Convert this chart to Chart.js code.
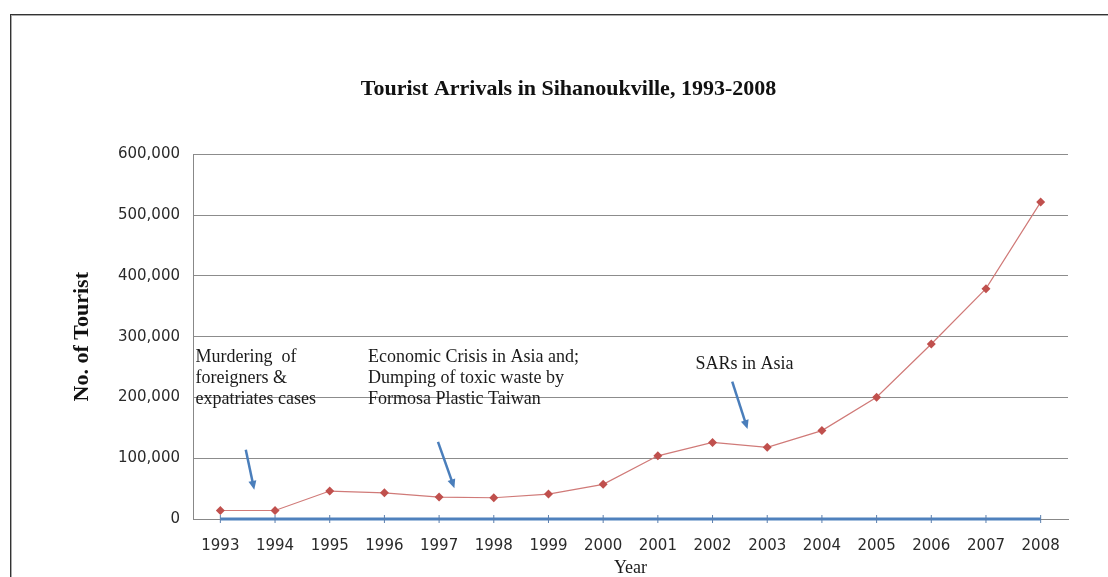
<!DOCTYPE html>
<html>
<head>
<meta charset="utf-8">
<title>Tourist Arrivals in Sihanoukville, 1993-2008</title>
<script src="https://cdn.jsdelivr.net/npm/chart.js@4/dist/chart.umd.min.js"></script>
<style>
html, body { margin: 0; padding: 0; background: #fff; overflow: hidden; }
#frame { position: absolute; left: 10px; top: 14px; width: 1130px; height: 620px;
         border: 1px solid #333; box-shadow: inset 1px 1px 0 #aaa; }
#wrap { position: absolute; left: 0; top: 0; width: 1108px; height: 577px; }
</style>
</head>
<body>
<div id="frame"></div>
<div id="wrap"><canvas id="chart"></canvas></div>
<script>
var years = ["1993", "1994", "1995", "1996", "1997", "1998", "1999", "2000",
             "2001", "2002", "2003", "2004", "2005", "2006", "2007", "2008"];
var arrivals = [14000, 14000, 46000, 43000, 36000, 35000, 41000, 57000,
                104000, 126000, 118000, 145500, 200500, 288000, 379000, 521500];
var baseline = [0, 0, 0, 0, 0, 0, 0, 0, 0, 0, 0, 0, 0, 0, 0, 0];
var yMax = 600000;
var yStep = 100000;

// events: x in category index units, y in tourist counts
var notes = [
    { lines: ["Murdering  of", "foreigners &", "expatriates cases"],
      x: -0.455, y: 266000, from: [0.465, 113800], to: [0.62, 48000] },
    { lines: ["Economic Crisis in Asia and;", "Dumping of toxic waste by", "Formosa Plastic Taiwan"],
      x: 2.70, y: 266000, from: [3.98, 127000], to: [4.28, 50600] },
    { lines: ["SARs in Asia"],
      x: 8.69, y: 255000, from: [9.36, 226000], to: [9.64, 148000] }
];

var notePlugin = {
    id: "notes",
    afterDatasetsDraw: function(chart) {
        var ctx = chart.ctx, xs = chart.scales.x, ys = chart.scales.y;
        ctx.save();
        ctx.font = "18px 'Liberation Serif'";
        ctx.textBaseline = "middle";
        ctx.textAlign = "left";
        notes.forEach(function(n) {
            var tx = xs.getPixelForValue(n.x), ty = ys.getPixelForValue(n.y);
            ctx.fillStyle = "#1a1a1a";
            n.lines.forEach(function(line, i) {
                ctx.fillText(line, tx, ty + i * 21);
            });
            var x1 = xs.getPixelForValue(n.from[0]), y1 = ys.getPixelForValue(n.from[1]);
            var x2 = xs.getPixelForValue(n.to[0]), y2 = ys.getPixelForValue(n.to[1]);
            var a = Math.atan2(y2 - y1, x2 - x1);
            var head = 9;
            ctx.strokeStyle = "#4a7ebb";
            ctx.fillStyle = "#4a7ebb";
            ctx.lineWidth = 2.5;
            ctx.beginPath();
            ctx.moveTo(x1, y1);
            ctx.lineTo(x2 - Math.cos(a) * head * 0.6, y2 - Math.sin(a) * head * 0.6);
            ctx.stroke();
            ctx.beginPath();
            ctx.moveTo(x2, y2);
            ctx.lineTo(x2 - head * Math.cos(a) + 4 * Math.sin(a), y2 - head * Math.sin(a) - 4 * Math.cos(a));
            ctx.lineTo(x2 - head * Math.cos(a) - 4 * Math.sin(a), y2 - head * Math.sin(a) + 4 * Math.cos(a));
            ctx.closePath();
            ctx.fill();
        });
        ctx.restore();
    }
};

new Chart("chart", {
    type: "line",
    data: {
        labels: years,
        datasets: [{
            label: "Tourist arrivals",
            data: arrivals,
            borderColor: "#d07a78",
            backgroundColor: "#c0504d",
            borderWidth: 1.2,
            pointStyle: "rectRot",
            pointRadius: 4.5,
            pointBorderWidth: 0,
            tension: 0,
            order: 2
        }, {
            label: "Base",
            data: baseline,
            borderColor: "#4f81bd",
            backgroundColor: "#4f81bd",
            borderWidth: 3,
            pointStyle: "line",
            rotation: 90,
            pointRadius: 4,
            pointBorderWidth: 1,
            pointBorderColor: "#5b7fae",
            tension: 0,
            clip: false,
            order: 1
        }]
    },
    options: {
        responsive: true,
        maintainAspectRatio: false,
        animation: false,
        events: [],
        layout: { padding: { left: 69, right: 40, top: 76, bottom: 0 } },
        plugins: {
            legend: { display: false },
            tooltip: { enabled: false },
            title: {
                display: true,
                text: "Tourist Arrivals in Sihanoukville, 1993-2008",
                color: "#111",
                font: { family: "'Liberation Serif'", size: 22, weight: "bold" },
                padding: { top: 0, bottom: 52 }
            }
        },
        scales: {
            x: {
                offset: true,
                grid: { display: true, drawOnChartArea: false, drawTicks: false, offset: false },
                border: { display: true, color: "#888", width: 1 },
                ticks: {
                    color: "#2a2a2a",
                    font: { family: "'DejaVu Sans'", size: 15 },
                    padding: 18,
                    maxRotation: 0,
                    autoSkip: false
                },
                title: {
                    display: true,
                    text: "Year",
                    color: "#1a1a1a",
                    font: { family: "'Liberation Serif'", size: 18 },
                    padding: { top: 0, bottom: -2 }
                },
                afterFit: function(scale) { scale.height = 58; }
            },
            y: {
                min: 0,
                max: yMax,
                ticks: {
                    stepSize: yStep,
                    color: "#2a2a2a",
                    font: { family: "'DejaVu Sans'", size: 15 },
                    padding: 13,
                    callback: function(v) { return v.toLocaleString("en-US"); }
                },
                grid: { color: "#8c8c8c", lineWidth: 1, drawTicks: false },
                border: { display: true, color: "#888", width: 1 },
                title: {
                    display: true,
                    text: "No. of Tourist",
                    color: "#111",
                    font: { family: "'Liberation Serif'", size: 22, weight: "bold" },
                    padding: { top: 0, bottom: 0 }
                },
                afterFit: function(scale) { scale.width = 124; }
            }
        }
    },
    plugins: [notePlugin]
});
</script>
</body>
</html>
